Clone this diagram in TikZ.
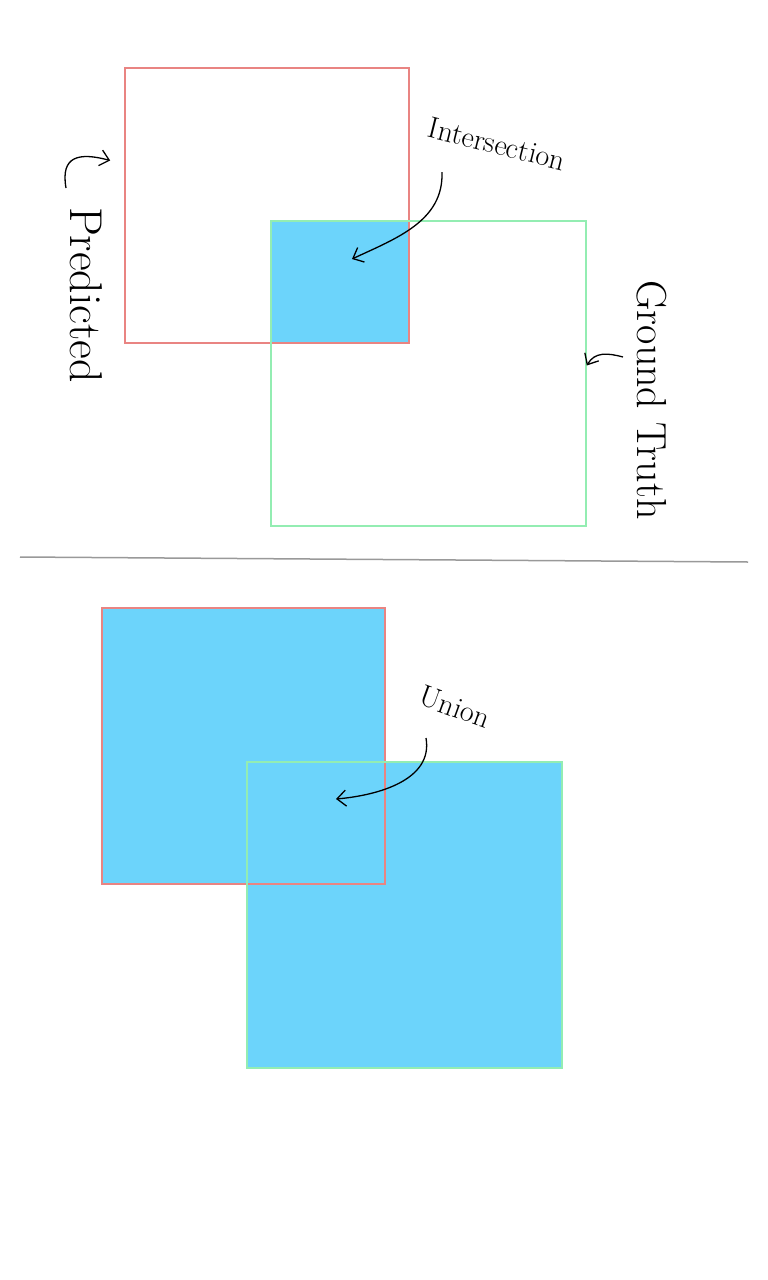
\documentclass[tikz,border=0pt]{standalone}
\usepackage{xcolor}
\usepackage{tikz}
\usetikzlibrary{arrows.meta, calc}
\definecolor{predred}{HTML}{E98482}
\definecolor{truegreen}{HTML}{93EDB2}
\definecolor{ioublue}{HTML}{6CD4FB}
\tikzset{>={Straight Barb[length=9pt, width=16pt]}}
\tikzset{pred/.style={shape=rectangle, draw=predred, line width=1.6pt, inner sep=0pt},
  truth/.style={shape=rectangle, draw=truegreen, line width=1.6pt, inner sep=0pt},
  sidelab/.style={rotate=-90, inner sep=1pt, font=\fontsize{42}{46}\selectfont},
  notelab/.style={inner sep=1pt, font=\fontsize{30}{34}\selectfont},
  hand/.style={->, line width=1.3pt, black}}

\begin{document}
\begin{tikzpicture}[x=1pt, y=-1pt]
      \useasboundingbox[fill=white] (0,0) rectangle (768,1280);
      % top: intersection
      \begin{scope}
      \fill[ioublue] (271,221) rectangle (409,343);
      \node[pred, minimum width=284pt, minimum height=275pt] (p1) at (267,205.5) {};
      \node[truth, minimum width=315pt, minimum height=305pt] (g1) at (428.5,373.5) {};
      \node[sidelab, font=\fontsize{46}{50}\selectfont] (predlab) at (86,295) {Predicted};
      \node[notelab, rotate=-14] (interlab) at (497,144) {Intersection};
      \node[sidelab] (truthlab) at (652,400) {Ground Truth};
      \coordinate (pt1) at ($(p1.west)+(-14,-45)$);
      \coordinate (it1) at (352,259);
      \coordinate (gt1) at ($(g1.east)+(0,-8)$);
      \draw[hand] ($(predlab.center)+(-20,-107)$) to[out=100, in=165, looseness=1.6] (pt1);
      \draw[hand] ($(interlab.center)+(-55,28)$) to[out=-88, in=25] (it1);
      \draw[hand] ($(truthlab.center)+(-29,-43)$) to[out=165, in=60, looseness=1.1] (gt1);
      \end{scope}
      % separator
      \draw[gray!80, line width=1.5pt] (20,557) -- (748,562);
      % bottom: union
      \begin{scope}
      \fill[ioublue] (102,608) rectangle (385,884);
      \fill[ioublue] (247,762) rectangle (562,1068);
      \node[pred, minimum width=283pt, minimum height=276pt] (p2) at (243.5,746) {};
      \node[truth, minimum width=315pt, minimum height=306pt] (g2) at (404.5,915) {};
      \node[notelab, rotate=-20] (unionlab) at (455,707) {Union};
      \coordinate (ut2) at (336,799);
      \draw[hand] ($(unionlab.center)+(-29,31)$) to[out=-80, in=5] (ut2);
      \end{scope}
\end{tikzpicture}
\end{document}
